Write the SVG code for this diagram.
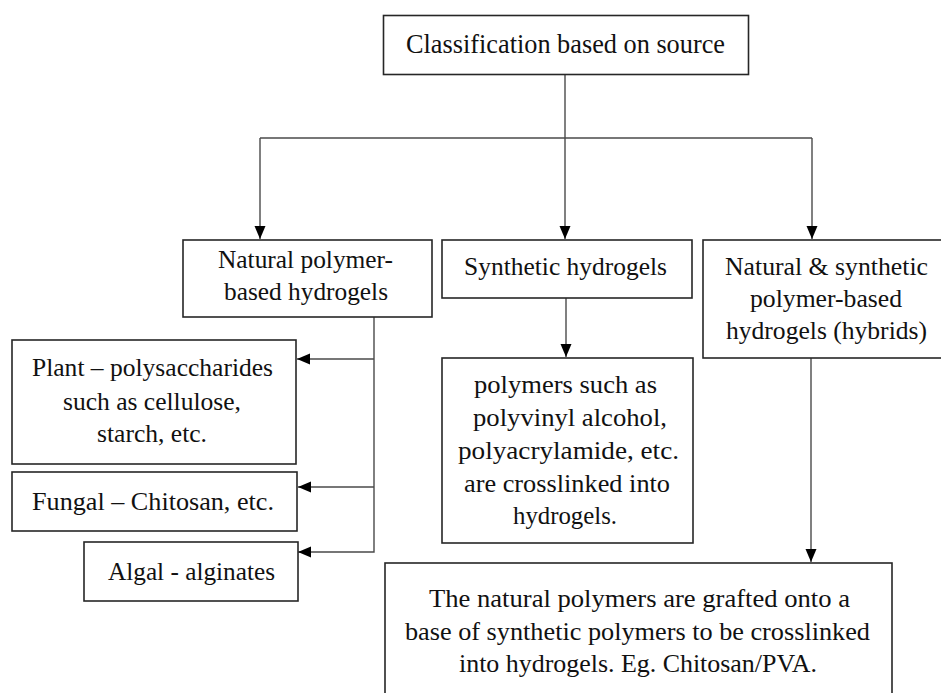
<svg xmlns="http://www.w3.org/2000/svg" width="941" height="693" viewBox="0 0 941 693">
<style>
.box{fill:#fff;stroke:#262626;stroke-width:1.6}
.t{font-family:'Liberation Serif','Times New Roman','DejaVu Serif',serif;font-size:26px;fill:#111;text-anchor:middle}
.big{font-size:27px}
.c{fill:none;stroke:#4a4a4a;stroke-width:1.4}
</style>
<defs>
<marker id="ah" markerUnits="userSpaceOnUse" markerWidth="14" markerHeight="12" refX="13" refY="5.5" orient="auto">
<path d="M0,0 L13,5.5 L0,11 z" fill="#000"/>
</marker>
</defs>
<rect width="941" height="693" fill="#fff"/>
<g id="connectors">
<path class="c" d="M565,74 V138"/>
<path class="c" d="M260,138 H812"/>
<path class="c" d="M260,138 V239" marker-end="url(#ah)"/>
<path class="c" d="M565,138 V239" marker-end="url(#ah)"/>
<path class="c" d="M812,138 V239" marker-end="url(#ah)"/>
<path class="c" d="M566,298 V357" marker-end="url(#ah)"/>
<path class="c" d="M811,358 V562" marker-end="url(#ah)"/>
<path class="c" d="M374,317 V552 H298" marker-end="url(#ah)"/>
<path class="c" d="M374,359 H297" marker-end="url(#ah)"/>
<path class="c" d="M374,487 H298" marker-end="url(#ah)"/>
</g>
<g id="root">
<rect class="box" x="383.5" y="15.5" width="365" height="59"/>
<text class="t big" x="565.5" y="53" textLength="319" lengthAdjust="spacingAndGlyphs">Classification  based on source</text>
</g>
<g id="natural">
<rect class="box" x="183" y="240" width="249" height="77"/>
<text class="t" x="305.5" y="268" textLength="175" lengthAdjust="spacingAndGlyphs">Natural polymer-</text>
<text class="t" x="306" y="300" textLength="164" lengthAdjust="spacingAndGlyphs">based hydrogels</text>
</g>
<g id="synthetic">
<rect class="box" x="442" y="240" width="250" height="58"/>
<text class="t" x="565.5" y="275" textLength="203" lengthAdjust="spacingAndGlyphs">Synthetic hydrogels</text>
</g>
<g id="hybrid">
<rect class="box" x="703" y="240" width="250" height="118"/>
<text class="t" x="826.5" y="275" textLength="203" lengthAdjust="spacingAndGlyphs">Natural &amp; synthetic</text>
<text class="t" x="826" y="307" textLength="152" lengthAdjust="spacingAndGlyphs">polymer-based</text>
<text class="t" x="826.5" y="339" textLength="201" lengthAdjust="spacingAndGlyphs">hydrogels (hybrids)</text>
</g>
<g id="plant">
<rect class="box" x="12" y="340" width="284" height="124"/>
<text class="t" x="152.5" y="376" textLength="241" lengthAdjust="spacingAndGlyphs">Plant – polysaccharides</text>
<text class="t" x="152" y="410" textLength="178" lengthAdjust="spacingAndGlyphs">such as cellulose,</text>
<text class="t" x="152" y="442" textLength="110" lengthAdjust="spacingAndGlyphs">starch, etc.</text>
</g>
<g id="fungal">
<rect class="box" x="12" y="472" width="285" height="59"/>
<text class="t" x="153" y="510" textLength="242" lengthAdjust="spacingAndGlyphs">Fungal – Chitosan, etc.</text>
</g>
<g id="algal">
<rect class="box" x="84" y="542" width="214" height="59"/>
<text class="t" x="191.5" y="580" textLength="167" lengthAdjust="spacingAndGlyphs">Algal - alginates</text>
</g>
<g id="synthetic-desc">
<rect class="box" x="442" y="358" width="251" height="185"/>
<text class="t" x="565.5" y="393" textLength="183" lengthAdjust="spacingAndGlyphs">polymers such as</text>
<text class="t" x="570" y="426" textLength="194" lengthAdjust="spacingAndGlyphs">polyvinyl alcohol,</text>
<text class="t" x="568.5" y="459" textLength="221" lengthAdjust="spacingAndGlyphs">polyacrylamide, etc.</text>
<text class="t" x="567" y="492" textLength="206" lengthAdjust="spacingAndGlyphs">are crosslinked into</text>
<text class="t" x="565" y="524" textLength="104" lengthAdjust="spacingAndGlyphs">hydrogels.</text>
</g>
<g id="hybrid-desc">
<rect class="box" x="385" y="563" width="507" height="140"/>
<text class="t" x="639.5" y="607" textLength="421" lengthAdjust="spacingAndGlyphs">The natural polymers are grafted onto a</text>
<text class="t" x="637.5" y="640" textLength="465" lengthAdjust="spacingAndGlyphs">base of synthetic polymers to be crosslinked</text>
<text class="t" x="638" y="672" textLength="358" lengthAdjust="spacingAndGlyphs">into hydrogels. Eg. Chitosan/PVA.</text>
</g>
</svg>
